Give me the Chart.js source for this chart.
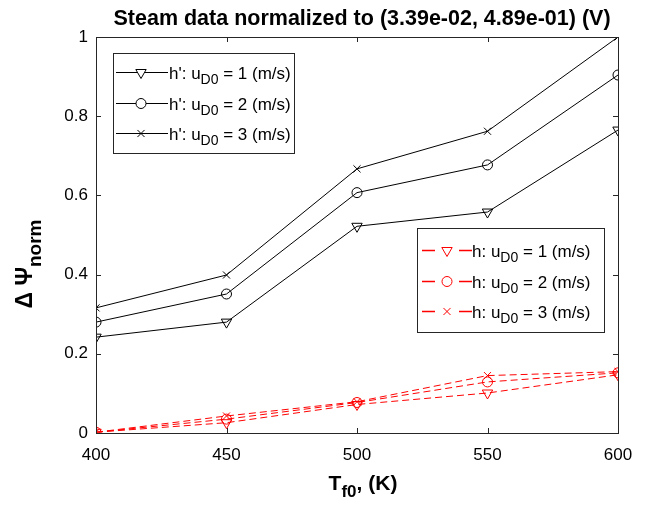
<!DOCTYPE html>
<html>
<head>
<meta charset="utf-8">
<script src="https://cdn.jsdelivr.net/npm/chart.js@4.4.0/dist/chart.umd.min.js"></script>
<style>
  html, body { margin: 0; padding: 0; background: #fff; }
  canvas { display: block; }
</style>
</head>
<body>
<canvas id="chart" width="646" height="507"></canvas>
<script>
// temperatures on the x axis (K)
const temps = [400, 450, 500, 550, 600];
const xTicks = [400, 450, 500, 550, 600];
const yTicks = [0, 0.2, 0.4, 0.6, 0.8, 1];
const speeds = [1, 2, 3];

// h' series (black, solid)
const hPrime1 = [0.242, 0.280, 0.522, 0.558, 0.765];
const hPrime2 = [0.280, 0.351, 0.607, 0.677, 0.904];
const hPrime3 = [0.316, 0.399, 0.667, 0.762, 1.000];

// h series (red, dashed)
const h1 = [0.002, 0.026, 0.072, 0.101, 0.147];
const h2 = [0.002, 0.035, 0.077, 0.129, 0.152];
const h3 = [0.002, 0.043, 0.079, 0.145, 0.155];

const titleText = 'Steam data normalized to (3.39e-02, 4.89e-01) (V)';
const FONT = '"Liberation Sans", Arial, Helvetica, sans-serif';
const AXIS = '#262626';

const markers = [
  { pointStyle: 'triangle', rotation: 180, radius: 6 },
  { pointStyle: 'circle', rotation: 0, radius: 5 },
  { pointStyle: 'crossRot', rotation: 0, radius: 5 }
];

function toPoints(vals) {
  return temps.map((t, i) => ({ x: t, y: vals[i] }));
}

function makeSet(label, vals, idx, color, dashed) {
  const m = markers[idx];
  return {
    label: label,
    data: toPoints(vals),
    borderColor: color,
    backgroundColor: 'rgba(0,0,0,0)',
    borderWidth: 1,
    borderDash: dashed ? [7, 4] : [],
    pointStyle: m.pointStyle,
    pointRotation: m.rotation,
    pointRadius: m.radius,
    pointBorderWidth: 1,
    pointBorderColor: color,
    pointBackgroundColor: 'rgba(0,0,0,0)',
    tension: 0
  };
}

const blackSets = [hPrime1, hPrime2, hPrime3].map((v, i) => makeSet("h': u = " + speeds[i], v, i, '#000', false));
const redSets = [h1, h2, h3].map((v, i) => makeSet('h: u = ' + speeds[i], v, i, '#ff0000', true));

// draws a string made of normal and subscript parts (alphabetic baseline)
function drawRich(ctx, x, y, parts, size, bold, subSize, subDrop) {
  for (const p of parts) {
    ctx.font = (bold ? 'bold ' : '') + (p.sub ? subSize : size) + 'px ' + FONT;
    ctx.fillText(p.t, x, y + (p.sub ? subDrop : 0));
    x += ctx.measureText(p.t).width;
  }
  return x;
}

function richWidth(ctx, parts, size, bold, subSize) {
  let w = 0;
  for (const p of parts) {
    ctx.font = (bold ? 'bold ' : '') + (p.sub ? subSize : size) + 'px ' + FONT;
    w += ctx.measureText(p.t).width;
  }
  return w;
}

function drawLegend(ctx, box, color, dashed, prefix) {
  ctx.save();
  ctx.setLineDash([]);
  ctx.fillStyle = '#fff';
  ctx.fillRect(box.x, box.y, box.w, box.h);
  ctx.strokeStyle = AXIS;
  ctx.lineWidth = 1;
  ctx.strokeRect(box.x + 0.5, box.y + 0.5, box.w, box.h);
  speeds.forEach((s, i) => {
    const cy = Math.round(box.y + box.first + i * box.step) + 0.5;
    // sample line
    ctx.save();
    ctx.strokeStyle = color;
    ctx.lineWidth = dashed ? 1.4 : 1;
    ctx.beginPath();
    if (dashed) {
      ctx.moveTo(box.x + 5, cy); ctx.lineTo(box.x + 18, cy);
      ctx.moveTo(box.x + 42, cy); ctx.lineTo(box.x + 55, cy);
    } else {
      ctx.moveTo(box.x + 3, cy); ctx.lineTo(box.x + 55, cy);
    }
    ctx.stroke();
    ctx.restore();
    // marker
    const m = markers[i];
    ctx.save();
    ctx.strokeStyle = color;
    ctx.fillStyle = 'rgba(255,255,255,1)';
    ctx.lineWidth = 1;
    Chart.helpers.drawPoint(ctx, {
      pointStyle: m.pointStyle, rotation: m.rotation, radius: m.radius, borderWidth: 1
    }, box.x + box.mx, cy);
    ctx.restore();
    // label
    ctx.save();
    ctx.fillStyle = '#000';
    ctx.textBaseline = 'alphabetic';
    ctx.textAlign = 'left';
    drawRich(ctx, box.x + box.tx, cy + 6, [
      { t: prefix + ' u' }, { t: 'D0', sub: true }, { t: ' = ' + s + ' (m/s)' }
    ], 17, false, 14, 5);
    ctx.restore();
  });
  ctx.restore();
}

const matlabLook = {
  id: 'matlabLook',
  afterDraw(chart) {
    const ctx = chart.ctx;
    const a = chart.chartArea;
    const xs = chart.scales.x;
    const ys = chart.scales.y;
    ctx.save();
    ctx.setLineDash([]);
    // axes box
    ctx.strokeStyle = AXIS;
    ctx.lineWidth = 1;
    ctx.strokeRect(Math.round(a.left) + 0.5, Math.round(a.top) + 0.5,
      Math.round(a.right - a.left), Math.round(a.bottom - a.top));
    // inward ticks on all four sides
    const tl = 5;
    ctx.beginPath();
    xTicks.forEach(v => {
      const px = Math.round(xs.getPixelForValue(v)) + 0.5;
      ctx.moveTo(px, a.bottom); ctx.lineTo(px, a.bottom - tl);
      ctx.moveTo(px, a.top); ctx.lineTo(px, a.top + tl);
    });
    yTicks.forEach(v => {
      const py = Math.round(ys.getPixelForValue(v)) + 0.5;
      ctx.moveTo(a.left, py); ctx.lineTo(a.left + tl, py);
      ctx.moveTo(a.right, py); ctx.lineTo(a.right - tl, py);
    });
    ctx.stroke();

    // title
    ctx.fillStyle = '#000';
    ctx.textAlign = 'center';
    ctx.textBaseline = 'alphabetic';
    ctx.font = 'bold 21.5px ' + FONT;
    ctx.fillText(titleText, 362, 25);

    // x axis title
    ctx.textAlign = 'left';
    const xParts = [{ t: 'T' }, { t: 'f0', sub: true }, { t: ', (K)' }];
    const xw = richWidth(ctx, xParts, 21, true, 17);
    drawRich(ctx, 363 - xw / 2, 490, xParts, 21, true, 17, 7);

    // y axis title
    ctx.save();
    ctx.translate(32, 264);
    ctx.rotate(-Math.PI / 2);
    const yParts = [{ t: '\u0394 \u03A8' }, { t: 'norm', sub: true }];
    const yw = richWidth(ctx, yParts, 23, true, 19);
    drawRich(ctx, -yw / 2, 0, yParts, 23, true, 19, 9);
    ctx.restore();

    // legends
    drawLegend(ctx, { x: 113, y: 53, w: 181, h: 100, first: 19, step: 30.5, mx: 28, tx: 56 },
      '#000000', false, "h':");
    drawLegend(ctx, { x: 417, y: 228, w: 187, h: 104, first: 22, step: 30.5, mx: 30, tx: 55 },
      '#ff0000', true, 'h:');
    ctx.restore();
  }
};

new Chart(document.getElementById('chart').getContext('2d'), {
  type: 'line',
  data: { datasets: blackSets.concat(redSets) },
  options: {
    responsive: false,
    animation: false,
    layout: { padding: { left: 0, right: 28, top: 37, bottom: 0 } },
    plugins: { legend: { display: false }, title: { display: false }, tooltip: { enabled: false } },
    scales: {
      x: {
        type: 'linear',
        min: 400, max: 600,
        afterFit(scale) { scale.height = 74; },
        afterBuildTicks(scale) { scale.ticks = xTicks.map(v => ({ value: v })); },
        grid: { display: false, drawTicks: false },
        border: { display: false },
        ticks: { color: '#000', padding: 12, font: { family: FONT, size: 17 } }
      },
      y: {
        type: 'linear',
        min: 0, max: 1,
        afterFit(scale) { scale.width = 96; },
        afterBuildTicks(scale) { scale.ticks = yTicks.map(v => ({ value: v })); },
        grid: { display: false, drawTicks: false },
        border: { display: false },
        ticks: { color: '#000', padding: 8, font: { family: FONT, size: 17 }, callback: v => String(v) }
      }
    }
  },
  plugins: [matlabLook]
});
</script>
</body>
</html>
